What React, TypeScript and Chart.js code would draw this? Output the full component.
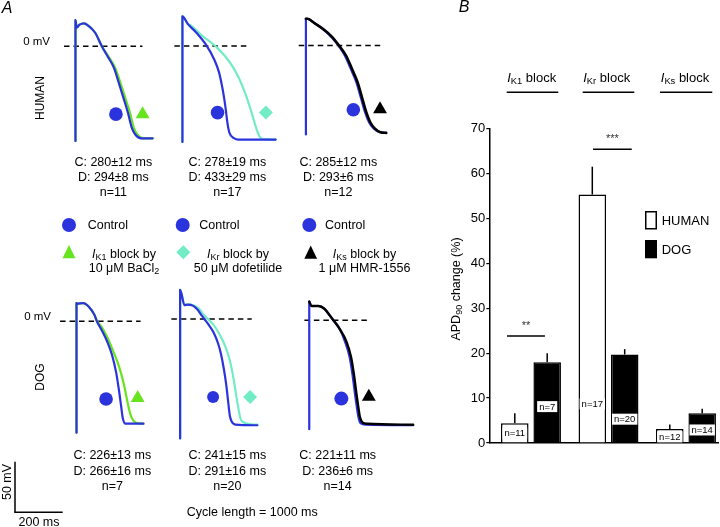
import React, { useEffect, useRef } from "react";
import { Chart, registerables } from "chart.js";

Chart.register(...registerables);

const FONT = '"Liberation Sans", Arial, Helvetica, sans-serif';
Chart.defaults.font.family = FONT;

type Pt = [number, number];

// ================= Panel B data =================
const blockCategories = ["K1", "Kr", "Ks"];
const humanApdChange = [4.4, 55.3, 3.1];
const humanApdError = [2.2, 6.2, 1.0];
const dogApdChange = [18.0, 19.7, 6.6];
const dogApdError = [2.0, 1.2, 1.0];
const humanN = [11, 17, 12];
const dogN = [7, 20, 14];
const apdTicks = [0, 10, 20, 30, 40, 50, 60, 70];

// ================= Panel A data (ms, mV) =================
const humanIK1Control: Pt[] = [[0,-106],[0,29],[6,21],[20,24],[41,25.5],[62,23],[96,15],[128,0],[158,-12],[187,-24],[211,-41],[234,-58],[255,-74],[274,-91],[292,-99],[320,-103],[376,-103]];
const humanIK1Drug: Pt[] = [[0,-106],[0,29],[6,21],[20,24],[41,25.5],[62,23],[96,15],[129,0],[162,-12],[193,-24],[219,-41],[243,-58],[265,-74],[284,-91],[302,-99],[330,-103],[376,-103]];
const humanIKrControl: Pt[] = [[0,-105.6],[0,32.7],[25,24.4],[67,14.4],[109,2],[151,-15.6],[172,-29],[186,-44],[196,-57.3],[204,-70.6],[211,-84],[221,-95.6],[242,-101.3],[263,-103],[438,-103]];
const humanIKrDrug: Pt[] = [[0,-105.6],[0,32.7],[25,24.4],[39,22.7],[95,11],[165,-2.3],[221,-17.3],[263,-34],[298,-54],[326,-74],[347,-90.6],[361,-99],[375,-102.3],[438,-103]];
const humanIKsControl: Pt[] = [[0,-100],[0,30],[7,30],[42,25],[84,18],[126,9],[158,0],[190,-11.6],[216,-25],[246,-41.6],[267,-58.3],[288,-75],[308,-86.6],[330,-93.3],[360,-97.6],[391,-98.3]];
const humanIKsDrug: Pt[] = [[0,30],[7,30],[42,25],[84,18.4],[126,10],[161,0],[196,-11.6],[222,-25],[252,-41.6],[273,-58.3],[294,-75],[314,-86.6],[335,-93.3],[363,-97.6],[391,-98.3]];

const dogIK1Control: Pt[] = [[0,-123.3],[0,20],[4,19.4],[32,20],[60,16],[88,6.7],[99,0],[123,-10],[151,-23.3],[172,-36.6],[193,-56.6],[207,-76.6],[217,-93.3],[225,-106.6],[239,-113.3],[326,-113.3]];
const dogIK1Drug: Pt[] = [[0,-123.3],[0,20],[4,19.4],[32,20],[60,16],[88,6.7],[101,0],[123,-6.6],[151,-18.3],[179,-33.3],[207,-50],[231,-70],[249,-90],[263,-103.3],[277,-110],[291,-112.3],[326,-113.3]];
const dogIKrControl: Pt[] = [[0,-130],[0,31.7],[21,15],[35,15.7],[63,14.3],[84,10],[105,3.3],[116,0],[133,-5],[161,-15],[182,-26.7],[196,-38.3],[210,-55],[221,-71.7],[231,-91.7],[238,-105],[247,-111.7],[265,-115],[370,-115.7]];
const dogIKrDrug: Pt[] = [[0,-130],[0,31.7],[21,15],[35,16],[63,15],[91,11],[112,5],[133,0],[161,-6.7],[189,-16.7],[217,-30],[238,-45],[256,-65],[270,-85],[280,-98.3],[289,-108.3],[303,-112.3],[328,-114.3],[370,-115]];
const dogIKsControl: Pt[] = [[0,-121],[0,20.7],[10,15.7],[44,15.7],[73,12.4],[101,4],[114,0],[143,-9.3],[170,-24.3],[191,-41],[205,-61],[216,-81],[226,-97.6],[233,-107.6],[243,-114.3],[268,-116],[492,-116.6]];
const dogIKsDrug: Pt[] = [[0,20.7],[10,15.7],[44,15.7],[73,12.4],[101,4],[114,0],[143,-9.3],[177,-24.3],[198,-41],[212,-61],[223,-81],[233,-97.6],[240,-107.6],[252,-113.6],[275,-115],[492,-116]];

// 0 mV reference line extents (ms)
const humanZeroLines: Pt[] = [[-56, 326], [-38, 319], [-35, 363]];
const dogZeroLines: Pt[] = [[-80, 312], [-42, 343], [-23, 284]];

// symbol positions (ms, mV): [control, drug]
const humanSymbols: Pt[][] = [[[197,-76],[327,-76]], [[165,-73.3],[392,-73.3]], [[231,-72.3],[361,-71.6]]];
const dogSymbols: Pt[][] = [[[144,-86],[298,-85]], [[158,-85],[335,-85]], [[152,-87],[282,-85]]];

const humanStats = [["C: 280±12 ms", "D: 294±8 ms", "n=11"], ["C: 278±19 ms", "D: 433±29 ms", "n=17"], ["C: 285±12 ms", "D: 293±6 ms", "n=12"]];
const dogStats = [["C: 226±13 ms", "D: 266±16 ms", "n=7"], ["C: 241±15 ms", "D: 291±16 ms", "n=20"], ["C: 221±11 ms", "D: 236±6 ms", "n=14"]];

// ================= styles =================
const PX_PER_MS = 0.2385;
const PX_PER_MV = 1.0;
const BLUE = "#2b33dd";
const GREEN = "#67e41f";
const TEAL = "#72ecc4";
const BLACK = "#000000";

interface ApSpec {
  left: number; top: number; width: number; height: number; ox: number; oy: number;
  control: Pt[]; drug: Pt[]; drugColor: string; drugOnTop: boolean; drugWidth: number;
  zero: Pt; symbols: Pt[]; drugStyle: string; drugRadius: number; ctrlRadius: number;
}

const apPanels: ApSpec[] = [
  { left: 50, top: 3, width: 115, height: 152, ox: 70.3, oy: 42.3, control: humanIK1Control, drug: humanIK1Drug, drugColor: GREEN, drugOnTop: false, drugWidth: 2.2, zero: humanZeroLines[0], symbols: humanSymbols[0], drugStyle: "triangle", drugRadius: 8, ctrlRadius: 6.8 },
  { left: 160, top: 3, width: 130, height: 152, ox: 177.3, oy: 42.7, control: humanIKrControl, drug: humanIKrDrug, drugColor: TEAL, drugOnTop: false, drugWidth: 2.2, zero: humanZeroLines[1], symbols: humanSymbols[1], drugStyle: "rectRot", drugRadius: 7, ctrlRadius: 6.8 },
  { left: 285, top: 3, width: 115, height: 145, ox: 300, oy: 41.7, control: humanIKsControl, drug: humanIKsDrug, drugColor: BLACK, drugOnTop: true, drugWidth: 2.6, zero: humanZeroLines[2], symbols: humanSymbols[2], drugStyle: "triangle", drugRadius: 8, ctrlRadius: 6.8 },
  { left: 45, top: 280, width: 115, height: 168, ox: 72.3, oy: 316.7, control: dogIK1Control, drug: dogIK1Drug, drugColor: GREEN, drugOnTop: false, drugWidth: 2.2, zero: dogZeroLines[0], symbols: dogSymbols[0], drugStyle: "triangle", drugRadius: 8, ctrlRadius: 6.8 },
  { left: 160, top: 278, width: 112, height: 172, ox: 175, oy: 315, control: dogIKrControl, drug: dogIKrDrug, drugColor: TEAL, drugOnTop: false, drugWidth: 2.2, zero: dogZeroLines[1], symbols: dogSymbols[1], drugStyle: "rectRot", drugRadius: 7, ctrlRadius: 6 },
  { left: 290, top: 280, width: 140, height: 162, ox: 302.7, oy: 315.7, control: dogIKsControl, drug: dogIKsDrug, drugColor: BLACK, drugOnTop: true, drugWidth: 2.4, zero: dogZeroLines[2], symbols: dogSymbols[2], drugStyle: "triangle", drugRadius: 8, ctrlRadius: 7 },
];

const toXY = (pts: Pt[]) => pts.map(([x, y]) => ({ x, y }));

function apConfig(p: ApSpec): any {
  const xMin = (p.left - p.ox) / PX_PER_MS;
  const xMax = (p.left + p.width - p.ox) / PX_PER_MS;
  const yMax = (p.oy - p.top) / PX_PER_MV;
  const yMin = (p.oy - p.top - p.height) / PX_PER_MV;
  const traceDs = (pts: Pt[], color: string, w: number) => ({
    data: toXY(pts), borderColor: color, borderWidth: w, pointRadius: 0, showLine: true,
    fill: false, cubicInterpolationMode: "monotone", borderJoinStyle: "round", borderCapStyle: "round",
  });
  const ctrl = traceDs(p.control, BLUE, 2.2);
  const drug = traceDs(p.drug, p.drugColor, p.drugWidth);
  const markerCtrl = { data: toXY([p.symbols[0]]), pointStyle: "circle", pointRadius: p.ctrlRadius, backgroundColor: BLUE, borderWidth: 0, showLine: false };
  const markerDrug = { data: toXY([p.symbols[1]]), pointStyle: p.drugStyle, pointRadius: p.drugRadius, backgroundColor: p.drugColor, borderWidth: 0, showLine: false };
  const zero = { data: [{ x: p.zero[0], y: 0 }, { x: p.zero[1], y: 0 }], borderColor: "#000", borderWidth: 1.5, borderDash: [5.5, 4], pointRadius: 0, showLine: true, fill: false };
  const traces = p.drugOnTop ? [drug, ctrl] : [ctrl, drug];
  return {
    type: "scatter",
    data: { datasets: [markerCtrl, markerDrug, ...traces, zero] },
    options: {
      responsive: false, animation: false, events: [],
      layout: { padding: 0 },
      scales: {
        x: { type: "linear", display: false, min: xMin, max: xMax },
        y: { type: "linear", display: false, min: yMin, max: yMax },
      },
      plugins: { legend: { display: false }, tooltip: { enabled: false } },
    },
  };
}

// ---------- bar chart ----------
const N_LABEL_LEVEL = [[2.15, 8.7, 1.4], [8.1, 5.3, 2.9]];
const SIG_MARKS = [
  { x0: -0.31, x1: 0.18, y: 23.8, text: "**", ty: 26.0 },
  { x0: 0.8, x1: 1.3, y: 65.4, text: "***", ty: 67.6 },
];

const barPlugin = {
  id: "apdExtras",
  afterDatasetsDraw(chart: any) {
    const { ctx } = chart;
    const x = chart.scales.x;
    const y = chart.scales.y;
    ctx.save();
    // error bars
    chart.data.datasets.forEach((ds: any, di: number) => {
      const meta = chart.getDatasetMeta(di);
      meta.data.forEach((bar: any, i: number) => {
        const v = ds.data[i].y + ds.errors[i];
        ctx.strokeStyle = "#000";
        ctx.lineWidth = 1.5;
        ctx.beginPath();
        ctx.moveTo(bar.x, bar.y);
        ctx.lineTo(bar.x, y.getPixelForValue(v));
        ctx.stroke();
      });
    });
    // n labels
    ctx.font = `9.5px ${FONT}`;
    ctx.textAlign = "center";
    ctx.textBaseline = "middle";
    chart.data.datasets.forEach((ds: any, di: number) => {
      const meta = chart.getDatasetMeta(di);
      meta.data.forEach((bar: any, i: number) => {
        const txt = `n=${ds.nValues[i]}`;
        const py = y.getPixelForValue(N_LABEL_LEVEL[di][i]);
        const w = ctx.measureText(txt).width + 4;
        ctx.fillStyle = "#fff";
        ctx.fillRect(bar.x - w / 2, py - 5.5, w, 11);
        ctx.fillStyle = "#000";
        ctx.fillText(txt, bar.x, py + 0.5);
      });
    });
    // significance
    SIG_MARKS.forEach((s) => {
      ctx.strokeStyle = "#000";
      ctx.lineWidth = 1.5;
      ctx.beginPath();
      ctx.moveTo(x.getPixelForValue(s.x0), y.getPixelForValue(s.y));
      ctx.lineTo(x.getPixelForValue(s.x1), y.getPixelForValue(s.y));
      ctx.stroke();
      ctx.fillStyle = "#333";
      ctx.font = `11px ${FONT}`;
      ctx.fillText(s.text, x.getPixelForValue((s.x0 + s.x1) / 2), y.getPixelForValue(s.ty));
    });
    ctx.restore();
  },
};

function barConfig(): any {
  return {
    type: "bar",
    data: {
      datasets: [
        { label: "HUMAN", data: humanApdChange.map((v, i) => ({ x: i, y: v })), errors: humanApdError, nValues: humanN, backgroundColor: "#ffffff", borderColor: "#000", borderWidth: 1.5 },
        { label: "DOG", data: dogApdChange.map((v, i) => ({ x: i, y: v })), errors: dogApdError, nValues: dogN, backgroundColor: "#000000", borderColor: "#000", borderWidth: 1.5 },
      ],
    },
    options: {
      responsive: false, animation: false, events: [],
      datasets: { bar: { categoryPercentage: 0.836, barPercentage: 0.85 } },
      layout: { padding: { top: 68.5, bottom: 17, left: 0, right: 2 } },
      scales: {
        x: {
          type: "linear", offset: false, min: -0.538, max: 2.413,
          afterBuildTicks: (s: any) => { s.ticks = blockCategories.map((_, i) => ({ value: i })); },
          afterFit: (s: any) => { s.height = 0; },
          ticks: { display: false },
          grid: { display: false },
          border: { display: true, color: "#000", width: 1.5 },
        },
        y: {
          type: "linear", min: apdTicks[0], max: apdTicks[apdTicks.length - 1],
          afterBuildTicks: (s: any) => { s.ticks = apdTicks.map((v) => ({ value: v })); },
          afterFit: (s: any) => { s.width = 49.3; },
          ticks: { color: "#000", font: { family: FONT, size: 13 }, padding: 1 },
          grid: { drawOnChartArea: false, drawTicks: true, tickLength: 3, color: "#000", lineWidth: 1.2 },
          border: { display: true, color: "#000", width: 1.5 },
        },
      },
      plugins: { legend: { display: false }, tooltip: { enabled: false } },
    },
    plugins: [barPlugin],
  };
}

function ChartBox({ left, top, width, height, make }: { left: number; top: number; width: number; height: number; make: () => any }) {
  const ref = useRef<HTMLCanvasElement>(null);
  useEffect(() => {
    const c = new Chart(ref.current as HTMLCanvasElement, make());
    return () => c.destroy();
  }, []);
  return <canvas ref={ref} width={width} height={height} style={{ position: "absolute", left, top, width, height }} />;
}

const subStyle: React.CSSProperties = { fontSize: "0.72em", verticalAlign: "-0.28em", lineHeight: 0 };

function T({ x, y, size = 12, align = "center", rotate = false, italic = false, children }: any) {
  const tx = align === "center" ? "-50%" : align === "right" ? "-100%" : "0";
  return (
    <div
      style={{
        position: "absolute", left: x, top: y, whiteSpace: "nowrap", fontSize: size, lineHeight: 1,
        fontStyle: italic ? "italic" : "normal", color: "#000",
        transform: rotate ? "translate(-50%,-50%) rotate(-90deg)" : `translate(${tx},-50%)`,
      }}
    >
      {children}
    </div>
  );
}

const IBlock = ({ sub }: { sub: string }) => (
  <>
    <i>I</i>
    <span style={subStyle}>{sub}</span>
  </>
);

export default function App() {
  const humanStatX = [113.3, 227.3, 338.3];
  const dogStatX = [112.3, 227.3, 337.7];
  const humanStatY = [162, 176.7, 191.7];
  const dogStatY = [455, 470.7, 486];
  const headerX = [531.7, 606.7, 685];
  const headerLine: Pt[] = [[506.7, 558.3], [582.7, 634.3], [660, 712.3]];
  const ctrlLegendX = [87.7, 199.3, 325];
  const ctrlDotX = [69, 182.7, 309.3];
  const drugLegendX = [124, 238, 364.5];

  return (
    <div style={{ position: "absolute", left: 0, top: 0, width: 720, height: 527, overflow: "hidden", background: "#fff", fontFamily: FONT }}>
      {apPanels.map((p, i) => (
        <ChartBox key={i} left={p.left} top={p.top} width={p.width} height={p.height} make={() => apConfig(p)} />
      ))}
      <ChartBox left={440} top={60} width={280} height={400} make={barConfig} />

      <svg width={720} height={527} style={{ position: "absolute", left: 0, top: 0, pointerEvents: "none" }}>
        {ctrlDotX.map((cx, i) => <circle key={i} cx={cx} cy={225} r={7} fill={BLUE} />)}
        <polygon points="69,245 62.5,258.3 75.5,258.3" fill={GREEN} />
        <polygon points="183.3,245.3 190.3,252.3 183.3,259.3 176.3,252.3" fill={TEAL} />
        <polygon points="310.7,245.5 304.3,258.8 317.1,258.8" fill={BLACK} />
        <line x1={15} y1={461.7} x2={15} y2={512.3} stroke="#000" strokeWidth={1.5} />
        <line x1={14.25} y1={512.3} x2={62.7} y2={512.3} stroke="#000" strokeWidth={1.5} />
        {headerLine.map(([a, b], i) => <line key={i} x1={a} y1={92.3} x2={b} y2={92.3} stroke="#000" strokeWidth={1.5} />)}
        <rect x={645.75} y={211.75} width={10.5} height={17} fill="#fff" stroke="#000" strokeWidth={1.5} />
        <rect x={645} y={240} width={12} height={18.3} fill="#000" />
      </svg>

      <T x={7} y={7.5} size={16} italic>A</T>
      <T x={464} y={7} size={16} italic>B</T>

      <T x={40} y={98} size={12} rotate>HUMAN</T>
      <T x={40} y={377} size={12} rotate>DOG</T>
      <T x={50} y={42.3} size={11.5} align="right">0 mV</T>
      <T x={51} y={316.7} size={11.5} align="right">0 mV</T>

      {humanStats.map((rows, i) => rows.map((r, j) => <T key={`h${i}${j}`} x={humanStatX[i]} y={humanStatY[j]} size={12.5}>{r}</T>))}
      {dogStats.map((rows, i) => rows.map((r, j) => <T key={`d${i}${j}`} x={dogStatX[i]} y={dogStatY[j]} size={12.5}>{r}</T>))}

      {ctrlLegendX.map((x, i) => <T key={`c${i}`} x={x} y={225} size={12.5} align="left">Control</T>)}
      <T x={drugLegendX[0]} y={254} size={12.5}><IBlock sub="K1" /> block by</T>
      <T x={drugLegendX[0]} y={268.3} size={12.5}>10 μM BaCl<span style={subStyle}>2</span></T>
      <T x={drugLegendX[1]} y={254} size={12.5}><IBlock sub="Kr" /> block by</T>
      <T x={drugLegendX[1]} y={268.3} size={12.5}>50 μM dofetilide</T>
      <T x={drugLegendX[2]} y={254} size={12.5}><IBlock sub="Ks" /> block by</T>
      <T x={drugLegendX[2]} y={268.3} size={12.5}>1 μM HMR-1556</T>

      <T x={252.3} y={512.3} size={12.5}>Cycle length = 1000 ms</T>
      <T x={39} y={521.5} size={12.5}>200 ms</T>
      <T x={6.5} y={482} size={12.5} rotate>50 mV</T>

      {blockCategories.map((c, i) => <T key={`b${i}`} x={headerX[i]} y={76.7} size={13}><IBlock sub={c} /> block</T>)}
      <T x={456} y={289} size={12.5} rotate>APD<span style={subStyle}>90</span> change (%)</T>
      <T x={661.7} y={220} size={13} align="left">HUMAN</T>
      <T x={661.7} y={249.3} size={13} align="left">DOG</T>
    </div>
  );
}
